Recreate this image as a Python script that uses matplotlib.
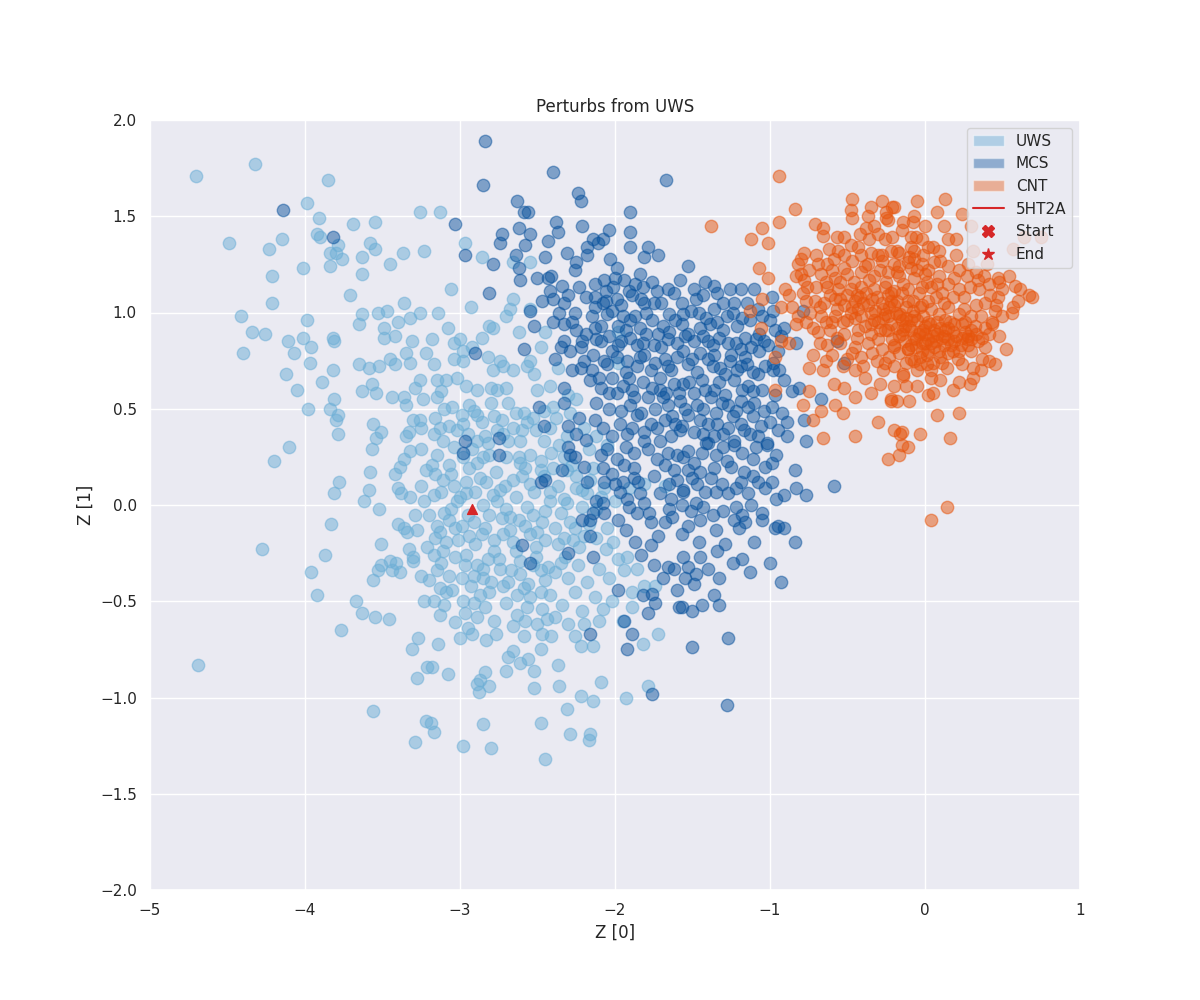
import numpy as np
import matplotlib
matplotlib.use("Agg")
import matplotlib.pyplot as plt
import seaborn as sns
from matplotlib.patches import Patch
from matplotlib.lines import Line2D

# latent coordinates (Z[0], Z[1])
uws_pts = [
    (-4.20, 0.23), (-4.28, -0.23), (-4.69, -0.83), (-3.83, -0.10), (-3.87, -0.26), (-3.96, -0.35),
    (-3.92, -0.47), (-3.67, -0.50), (-3.63, -0.56), (-3.55, -0.58), (-3.46, -0.59), (-3.77, -0.65),
    (-3.56, -1.07), (-3.27, -0.69), (-3.31, -0.75), (-3.28, -0.90), (-3.29, -1.23), (-3.22, -1.12),
    (-3.78, 0.12), (-3.81, 0.06), (-3.58, 0.17), (-3.59, 0.08), (-3.62, 0.02), (-3.52, -0.02),
    (-3.51, -0.20), (-3.56, -0.39), (-3.53, -0.34), (-3.51, -0.31), (-3.45, -0.29), (-3.41, -0.30),
    (-3.44, -0.34), (-3.39, -0.35), (-3.33, -0.23), (-3.30, -0.27), (-3.30, -0.29), (-3.40, -0.10),
    (-3.36, -0.12), (-3.34, -0.14), (-3.28, -0.13), (-3.29, -0.05), (-3.40, 0.09), (-3.38, 0.06),
    (-3.32, 0.04), (-3.25, 0.10), (-3.42, 0.16), (-3.39, 0.20), (-3.36, 0.24), (-3.23, -0.50),
    (-3.21, -0.84),
    (-4.70, 1.71), (-4.32, 1.77), (-3.85, 1.69), (-3.99, 1.57), (-3.91, 1.49), (-3.92, 1.41),
    (-3.90, 1.39), (-3.69, 1.46), (-3.55, 1.47), (-3.26, 1.52), (-4.49, 1.36), (-4.15, 1.38),
    (-4.23, 1.33), (-3.79, 1.35), (-3.84, 1.31), (-3.80, 1.31), (-3.76, 1.28), (-3.63, 1.29),
    (-3.58, 1.36), (-3.55, 1.33), (-3.37, 1.31), (-3.23, 1.32), (-3.45, 1.25), (-4.01, 1.23),
    (-3.84, 1.24), (-3.63, 1.20), (-4.21, 1.19), (-3.71, 1.09), (-4.21, 1.05), (-3.36, 1.05),
    (-4.41, 0.98), (-3.99, 0.96), (-3.63, 0.99), (-3.65, 0.94), (-3.53, 1.00), (-3.47, 1.01),
    (-3.32, 0.97), (-3.26, 1.00), (-3.40, 0.95), (-3.49, 0.92), (-3.49, 0.87), (-3.42, 0.88),
    (-4.34, 0.90), (-4.26, 0.89), (-4.11, 0.85), (-4.01, 0.87), (-3.96, 0.82), (-3.82, 0.87),
    (-3.81, 0.85), (-4.40, 0.79), (-4.07, 0.79), (-3.97, 0.74), (-3.31, 0.85), (-3.22, 0.79),
    (-3.65, 0.73), (-3.59, 0.71), (-3.52, 0.72), (-3.45, 0.76), (-3.42, 0.73), (-3.35, 0.79),
    (-3.32, 0.74), (-4.12, 0.68), (-3.82, 0.70), (-3.89, 0.64), (-4.05, 0.60), (-3.63, 0.59),
    (-3.57, 0.63), (-3.54, 0.58), (-3.44, 0.56), (-3.36, 0.56), (-3.35, 0.52), (-3.29, 0.61),
    (-3.26, 0.65), (-3.81, 0.55), (-3.98, 0.50), (-3.84, 0.50), (-3.79, 0.47), (-3.80, 0.44),
    (-3.79, 0.37), (-4.10, 0.30), (-3.56, 0.42), (-3.51, 0.38), (-3.54, 0.35), (-3.35, 0.36),
    (-3.33, 0.38), (-3.30, 0.44), (-3.26, 0.44), (-3.57, 0.29), (-3.32, 0.28), (-3.25, 0.29),
    (-3.13, 1.52), (-2.97, 1.36), (-2.86, 1.29), (-2.66, 1.26), (-2.55, 1.26), (-3.06, 1.12),
    (-2.93, 1.03), (-3.14, 1.00), (-2.66, 1.07), (-2.68, 1.02), (-2.70, 0.98), (-2.55, 1.02),
    (-3.08, 0.92), (-2.81, 0.93), (-2.79, 0.92), (-2.45, 0.90), (-3.18, 0.86), (-3.04, 0.84),
    (-3.00, 0.86), (-2.98, 0.80), (-2.92, 0.82), (-2.82, 0.77), (-2.74, 0.75), (-2.55, 0.75),
    (-3.04, 0.76), (-2.98, 0.75), (-2.79, 0.70), (-2.72, 0.72), (-2.66, 0.70), (-2.57, 0.72),
    (-2.37, 0.71), (-1.98, 0.90), (-1.98, 0.74), (-3.17, 0.73), (-3.15, 0.65), (-3.09, 0.65),
    (-3.02, 0.66), (-2.96, 0.62), (-2.89, 0.60), (-2.80, 0.61), (-2.76, 0.60), (-2.70, 0.61),
    (-2.50, 0.60), (-2.69, 0.53), (-2.40, 0.51), (-2.25, 0.55), (-3.12, 0.59), (-3.15, 0.56),
    (-3.05, 0.51), (-2.94, 0.52), (-2.91, 0.49), (-2.99, 0.47), (-2.89, 0.47), (-2.78, 0.46),
    (-2.59, 0.48), (-2.53, 0.45), (-2.57, 0.43), (-2.66, 0.40), (-2.76, 0.39), (-2.72, 0.37),
    (-2.84, 0.36), (-3.07, 0.41), (-3.13, 0.40), (-3.02, 0.39), (-2.95, 0.37), (-3.11, 0.33),
    (-3.17, 0.37), (-2.89, 0.33), (-2.82, 0.32), (-2.69, 0.33), (-2.61, 0.33), (-2.46, 0.33),
    (-2.36, 0.31), (-2.12, 0.36), (-2.42, 0.40),
    (-3.15, 0.26), (-3.07, 0.21), (-2.98, 0.25), (-2.89, 0.22), (-2.81, 0.26), (-2.70, 0.25),
    (-2.61, 0.22), (-2.55, 0.26), (-2.48, 0.23), (-2.40, 0.19), (-2.33, 0.25), (-2.25, 0.15),
    (-2.16, 0.13), (-2.07, 0.09), (-2.00, 0.02), (-1.91, 0.09), (-1.81, 0.11), (-1.68, 0.10),
    (-3.16, 0.16), (-3.11, 0.13), (-3.04, 0.10), (-2.96, 0.12), (-2.87, 0.14), (-2.83, 0.12),
    (-2.74, 0.08), (-2.66, 0.13), (-2.60, 0.15), (-2.55, 0.11), (-2.46, 0.15), (-2.42, 0.07),
    (-2.31, 0.18), (-2.25, 0.09), (-2.18, 0.06), (-3.17, 0.05), (-3.10, -0.04), (-3.02, 0.02),
    (-2.96, 0.06), (-2.85, 0.00), (-2.76, 0.02), (-2.70, -0.02), (-2.73, -0.07), (-2.68, -0.06),
    (-2.62, -0.08), (-2.57, -0.01), (-2.53, -0.05), (-2.45, -0.03), (-2.42, 0.02), (-2.31, 0.01),
    (-2.21, -0.01), (-2.26, -0.12), (-3.15, -0.11), (-3.07, -0.08), (-2.99, -0.11), (-2.91, -0.09),
    (-2.84, -0.12), (-3.16, -0.17), (-3.09, -0.19), (-3.01, -0.18), (-2.94, -0.16), (-2.86, -0.15),
    (-2.78, -0.18), (-2.72, -0.15), (-2.66, -0.19), (-2.55, -0.15), (-2.50, -0.14), (-2.45, -0.18),
    (-2.37, -0.20), (-2.33, -0.17), (-2.27, -0.18), (-2.20, -0.16), (-2.12, -0.17), (-2.06, -0.23),
    (-2.01, -0.19), (-3.17, -0.26), (-3.11, -0.24), (-3.03, -0.27), (-2.96, -0.26), (-2.89, -0.31),
    (-2.82, -0.28), (-2.74, -0.33), (-2.67, -0.34), (-2.61, -0.29), (-2.53, -0.31), (-2.48, -0.34),
    (-2.43, -0.32), (-2.35, -0.30), (-2.32, -0.27), (-3.15, -0.34), (-3.07, -0.37), (-2.99, -0.38),
    (-2.91, -0.37), (-2.85, -0.38), (-1.94, -0.34), (-1.92, -0.27), (-1.86, -0.33), (-3.13, -0.43),
    (-3.09, -0.45), (-3.17, -0.50), (-2.87, -0.47), (-2.81, -0.45), (-2.72, -0.42), (-2.63, -0.47),
    (-2.59, -0.43), (-2.55, -0.48), (-2.48, -0.45), (-2.42, -0.47), (-2.26, -0.45), (-2.13, -0.48),
    (-2.02, -0.50), (-1.89, -0.45), (-1.81, -0.42), (-2.91, -0.51), (-2.08, -0.54), (-3.13, -0.57),
    (-3.03, -0.61), (-2.97, -0.56), (-2.89, -0.58), (-2.78, -0.60), (-2.63, -0.57), (-2.58, -0.60),
    (-2.50, -0.62), (-2.44, -0.59), (-2.39, -0.58), (-3.14, -0.72), (-3.00, -0.69), (-2.92, -0.67),
    (-2.83, -0.70), (-2.77, -0.67), (-2.59, -0.68), (-2.47, -0.67), (-2.41, -0.68), (-2.26, -0.68),
    (-2.20, -0.62), (-2.14, -0.73), (-2.22, -0.73), (-1.95, -0.60), (-1.82, -0.72), (-1.72, -0.67),
    (-1.89, -0.53), (-3.18, -0.84), (-3.08, -0.88), (-2.89, -0.93), (-2.87, -0.91), (-2.84, -0.87),
    (-2.88, -0.97), (-2.81, -0.94), (-2.70, -0.86), (-2.66, -0.76), (-2.69, -0.79), (-2.61, -0.82),
    (-2.56, -0.80), (-2.52, -0.86), (-2.48, -0.75), (-2.37, -0.83), (-2.52, -0.95), (-2.36, -0.94),
    (-2.22, -0.99), (-2.14, -1.02), (-2.09, -0.92), (-1.93, -1.00), (-1.79, -0.94), (-2.31, -1.06),
    (-3.19, -1.13), (-3.17, -1.18), (-2.98, -1.25), (-2.85, -1.14), (-2.80, -1.26), (-2.48, -1.13),
    (-2.45, -1.32), (-2.29, -1.19), (-2.17, -1.22), (-2.16, -1.19), (-1.74, -0.42),
]

uws_core_pts = [
    (-3.18, 0.21), (-3.12, 0.07), (-3.06, 0.16), (-3.00, 0.04), (-2.94, 0.19), (-2.90, 0.07),
    (-2.85, 0.25), (-2.79, 0.05), (-2.77, 0.17), (-2.71, 0.10), (-2.64, 0.04), (-2.62, 0.25),
    (-2.58, 0.19), (-2.52, 0.07), (-2.48, 0.18), (-2.41, 0.27), (-2.37, 0.10), (-2.33, 0.03),
    (-2.28, 0.21), (-2.21, 0.08), (-2.14, 0.19), (-2.09, 0.04),
    (-3.20, -0.05), (-3.13, -0.14), (-3.06, -0.02), (-3.03, -0.12), (-2.95, -0.05), (-2.90, -0.20),
    (-2.81, -0.05), (-2.78, -0.24), (-2.68, -0.13), (-2.64, -0.24), (-2.58, -0.11), (-2.51, -0.22),
    (-2.47, -0.09), (-2.39, -0.12), (-2.35, -0.04), (-2.29, -0.09), (-2.23, -0.22), (-2.17, -0.10),
    (-2.12, -0.02), (-2.05, -0.12),
    (-3.20, -0.39), (-3.12, -0.30), (-3.05, -0.44), (-2.97, -0.31), (-2.93, -0.42), (-2.85, -0.33),
    (-2.80, -0.40), (-2.75, -0.28), (-2.69, -0.40), (-2.61, -0.36), (-2.56, -0.41), (-2.51, -0.27),
    (-2.45, -0.39), (-2.39, -0.35), (-2.30, -0.38), (-2.24, -0.31), (-2.18, -0.40), (-2.10, -0.33),
    (-2.04, -0.38), (-1.98, -0.28),
    (-3.16, 0.45), (-3.10, 0.50), (-3.04, 0.30), (-2.98, 0.42), (-2.92, 0.29), (-2.86, 0.43),
    (-2.80, 0.53), (-2.73, 0.44), (-2.64, 0.48), (-2.60, 0.39), (-2.51, 0.39), (-2.46, 0.49),
    (-2.38, 0.45), (-2.31, 0.36), (-2.29, 0.48), (-2.20, 0.40), (-2.17, 0.29), (-2.05, 0.31),
    (-3.25, -0.37), (-3.21, -0.22), (-3.23, 0.02), (-3.22, 0.18), (-3.25, 0.40), (-3.24, 0.55),
    (-3.10, -0.52), (-2.98, -0.50), (-2.84, -0.53), (-2.70, -0.51), (-2.57, -0.53), (-2.47, -0.54),
    (-2.34, -0.52), (-2.21, -0.55), (-2.10, -0.60), (-2.30, -0.62), (-2.66, -0.63), (-2.95, -0.64),
    (-2.48, 0.82), (-2.52, 0.68), (-2.42, 0.62), (-2.30, 0.57), (-2.86, 0.87), (-2.62, 0.90),
]

mcs_pts = [
    (-4.14, 1.53), (-3.82, 1.39),
    (-2.84, 1.89), (-2.40, 1.73), (-2.85, 1.66), (-1.67, 1.69), (-2.63, 1.58), (-2.24, 1.62),
    (-2.22, 1.58), (-2.59, 1.52), (-2.56, 1.52), (-1.90, 1.52), (-3.03, 1.46), (-2.62, 1.44),
    (-2.38, 1.47), (-2.37, 1.42), (-2.21, 1.45), (-2.04, 1.43), (-1.90, 1.42), (-2.73, 1.41),
    (-2.74, 1.36), (-2.58, 1.35), (-2.18, 1.34), (-2.14, 1.38), (-2.11, 1.36), (-2.08, 1.38),
    (-1.90, 1.34), (-1.79, 1.34), (-2.97, 1.30), (-2.79, 1.25), (-2.64, 1.30), (-2.45, 1.29),
    (-2.18, 1.30), (-2.03, 1.28), (-1.81, 1.29), (-1.72, 1.30), (-2.62, 1.23), (-2.61, 1.17),
    (-2.81, 1.10), (-2.25, 1.26), (-2.26, 1.22), (-1.99, 1.23), (-1.84, 1.20), (-2.43, 1.18),
    (-2.41, 1.19), (-2.34, 1.14), (-2.42, 1.11), (-2.40, 1.07), (-2.33, 1.05), (-2.26, 1.00),
    (-2.55, 1.01), (-2.07, 1.17), (-2.00, 1.18), (-1.94, 1.17), (-2.06, 1.11), (-1.91, 1.11),
    (-1.89, 1.09), (-1.82, 1.13), (-1.73, 1.11), (-1.66, 1.12), (-2.19, 1.08), (-2.13, 1.08),
    (-2.13, 1.03), (-2.08, 1.05), (-1.99, 1.07), (-1.81, 1.05), (-1.75, 1.05), (-2.02, 1.01),
    (-1.95, 0.98), (-1.90, 0.96), (-1.80, 1.00), (-1.65, 0.99), (-2.40, 0.95), (-2.33, 0.94),
    (-2.25, 0.91), (-2.19, 0.89), (-2.13, 0.92), (-1.98, 0.93), (-1.80, 0.89), (-1.72, 0.89),
    (-1.65, 0.90), (-2.33, 0.85), (-2.21, 0.85), (-2.09, 0.85), (-2.35, 0.82), (-2.29, 0.80),
    (-2.22, 0.82), (-2.02, 0.80), (-1.98, 0.83), (-1.86, 0.83), (-1.70, 0.82), (-2.90, 0.79),
    (-2.59, 0.81), (-2.07, 0.75), (-1.92, 0.75), (-1.84, 0.77), (-1.68, 0.76), (-2.20, 0.75),
    (-2.22, 0.71), (-2.15, 0.70), (-2.02, 0.66), (-1.91, 0.66), (-1.77, 0.70), (-1.71, 0.66),
    (-1.64, 0.70), (-2.16, 0.65), (-2.09, 0.61), (-1.99, 0.58), (-1.88, 0.56), (-1.79, 0.56),
    (-1.71, 0.60), (-1.67, 0.58), (-2.49, 0.51), (-2.33, 0.53), (-2.23, 0.45), (-2.13, 0.44),
    (-2.46, 0.41), (-2.30, 0.41), (-2.25, 0.37), (-2.19, 0.34), (-2.75, 0.35), (-2.97, 0.33),
    (-1.92, 0.37), (-1.86, 0.47), (-1.77, 0.42), (-1.68, 0.44), (-1.93, 0.30), (-1.81, 0.33),
    (-1.71, 0.33), (-1.61, 0.42),
    (-2.98, 0.27), (-2.75, 0.26), (-2.48, 0.12), (-2.45, 0.13), (-2.29, 0.26), (-2.26, 0.25),
    (-2.18, 0.12), (-2.09, 0.26), (-2.08, 0.19), (-2.07, 0.12), (-2.00, 0.11), (-1.95, 0.12),
    (-1.94, 0.21), (-1.88, 0.19), (-1.85, 0.12), (-1.84, 0.06), (-1.81, 0.01), (-1.92, 0.03),
    (-1.91, -0.01), (-1.78, -0.04), (-1.77, -0.09), (-1.68, -0.09), (-1.65, -0.02), (-1.64, 0.03),
    (-1.65, 0.11), (-1.68, 0.21), (-1.62, 0.18), (-1.60, 0.26), (-2.08, 0.01), (-2.14, -0.04),
    (-2.16, -0.08), (-2.21, -0.08), (-2.07, -0.04), (-2.16, -0.16), (-2.14, -0.27), (-2.30, -0.25),
    (-2.60, -0.21), (-2.55, -0.30), (-1.87, -0.19), (-1.77, -0.21), (-1.75, -0.31), (-1.66, -0.32),
    (-1.62, -0.33), (-1.98, -0.44), (-1.82, -0.47), (-1.76, -0.46), (-1.74, -0.51), (-1.79, -0.56),
    (-1.94, -0.60), (-1.89, -0.67), (-1.92, -0.75), (-2.16, -0.67), (-1.76, -0.98), (-1.60, -0.44),
    (-1.59, -0.53),
    (-1.53, 1.24), (-1.36, 1.14), (-1.34, 1.10), (-1.19, 1.12), (-1.43, 1.09), (-1.48, 1.07),
    (-1.23, 1.05), (-1.57, 1.05), (-1.51, 1.01), (-1.24, 1.00), (-1.18, 0.97), (-0.99, 1.08),
    (-1.05, 0.98), (-1.00, 0.96), (-1.34, 0.95), (-1.39, 0.94), (-1.45, 0.92), (-1.57, 0.94),
    (-1.53, 0.89), (-1.30, 0.91), (-1.07, 0.89), (-0.97, 0.91), (-0.91, 0.92), (-0.93, 0.88),
    (-0.83, 0.84), (-0.79, 1.01), (-1.40, 0.85), (-1.33, 0.87), (-1.49, 0.85), (-1.22, 0.84),
    (-1.19, 0.81), (-1.12, 0.82), (-1.04, 0.85), (-1.56, 0.80), (-1.45, 0.79), (-1.36, 0.78),
    (-1.26, 0.75), (-1.16, 0.77), (-1.07, 0.80), (-0.98, 0.74), (-1.53, 0.73), (-1.37, 0.72),
    (-1.29, 0.68), (-1.19, 0.72), (-1.11, 0.69), (-1.08, 0.68), (-0.98, 0.70), (-1.44, 0.65),
    (-1.56, 0.63), (-1.23, 0.65), (-1.14, 0.62), (-1.11, 0.59), (-1.36, 0.60), (-1.49, 0.58),
    (-0.91, 0.65), (-0.86, 0.59), (-0.81, 0.61), (-0.67, 0.55), (-1.58, 0.54), (-1.47, 0.52),
    (-1.38, 0.56), (-1.27, 0.52), (-1.19, 0.54), (-1.14, 0.51), (-1.04, 0.49), (-1.53, 0.47),
    (-1.45, 0.44), (-1.34, 0.42), (-1.24, 0.46), (-1.11, 0.46), (-1.00, 0.43), (-0.89, 0.43),
    (-0.78, 0.44), (-1.58, 0.39), (-1.43, 0.37), (-1.30, 0.37), (-1.17, 0.39), (-1.08, 0.36),
    (-0.89, 0.36), (-0.77, 0.33), (-1.02, 0.32), (-1.23, 0.33), (-1.40, 0.32), (-0.52, 0.74),
    (-0.57, 0.85),
    (-1.53, 0.28), (-1.41, 0.32), (-1.30, 0.30), (-1.23, 0.31), (-1.02, 0.31), (-0.96, 0.26),
    (-1.03, 0.20), (-0.84, 0.18), (-0.59, 0.10), (-0.83, 0.09), (-0.77, 0.05), (-1.53, 0.18),
    (-1.45, 0.17), (-1.36, 0.19), (-1.25, 0.20), (-1.17, 0.17), (-1.08, 0.12), (-1.03, 0.09),
    (-1.56, 0.07), (-1.47, 0.11), (-1.38, 0.14), (-1.35, 0.07), (-1.27, 0.06), (-1.22, 0.09),
    (-1.14, 0.06), (-0.96, 0.03), (-1.57, 0.00), (-1.48, 0.01), (-1.43, -0.01), (-1.30, -0.03),
    (-1.22, -0.01), (-1.18, -0.05), (-1.12, 0.00), (-1.05, -0.04), (-1.51, -0.03), (-1.53, -0.11),
    (-1.45, -0.08), (-1.35, -0.13), (-1.23, -0.08), (-1.16, -0.09), (-1.20, -0.12), (-0.97, -0.12),
    (-0.95, -0.11), (-0.91, -0.12), (-0.84, -0.19), (-1.46, -0.19), (-1.57, -0.15), (-1.34, -0.24),
    (-1.45, -0.27), (-1.56, -0.27), (-1.53, -0.32), (-1.48, -0.36), (-1.24, -0.30), (-1.18, -0.28),
    (-1.13, -0.35), (-1.00, -0.30), (-0.93, -0.40), (-1.33, -0.38), (-1.49, -0.41), (-1.36, -0.47),
    (-1.33, -0.52), (-1.44, -0.52), (-1.50, -0.55), (-1.57, -0.53), (-1.27, -0.69), (-1.50, -0.74),
    (-1.28, -1.04),
]

mcs_core_pts = [
    (-2.13, 1.15), (-2.06, 1.06), (-2.01, 1.13), (-1.96, 1.04), (-1.87, 1.15), (-1.83, 1.07),
    (-1.76, 1.16), (-1.70, 1.05), (-1.62, 1.10), (-1.58, 1.17), (-1.49, 1.12), (-1.42, 1.16),
    (-1.30, 1.05), (-1.26, 1.12), (-1.15, 1.05), (-1.10, 1.12),
    (-2.15, 0.98), (-2.09, 0.93), (-2.05, 0.99), (-1.93, 0.91), (-1.87, 0.98), (-1.84, 0.92),
    (-1.76, 0.96), (-1.69, 0.93), (-1.61, 0.96), (-1.56, 0.99), (-1.46, 1.00), (-1.41, 0.97),
    (-1.36, 1.02), (-1.28, 0.98), (-1.21, 0.93), (-1.13, 0.96), (-1.08, 1.02), (-0.98, 1.01),
    (-2.12, 0.86), (-2.04, 0.88), (-1.96, 0.85), (-1.90, 0.87), (-1.82, 0.84), (-1.75, 0.83),
    (-1.66, 0.86), (-1.60, 0.84), (-1.55, 0.88), (-1.43, 0.88), (-1.37, 0.83), (-1.27, 0.84),
    (-1.16, 0.87), (-1.09, 0.86), (-1.01, 0.83), (-0.95, 0.80),
    (-2.14, 0.78), (-2.05, 0.73), (-1.99, 0.77), (-1.93, 0.69), (-1.86, 0.72), (-1.81, 0.78),
    (-1.74, 0.74), (-1.66, 0.72), (-1.60, 0.77), (-1.50, 0.76), (-1.47, 0.69), (-1.40, 0.76),
    (-1.32, 0.71), (-1.25, 0.78), (-1.21, 0.70), (-1.15, 0.73), (-1.03, 0.72), (-0.94, 0.70),
    (-2.10, 0.66), (-2.04, 0.58), (-1.95, 0.62), (-1.89, 0.60), (-1.82, 0.64), (-1.76, 0.61),
    (-1.69, 0.56), (-1.62, 0.63), (-1.59, 0.58), (-1.52, 0.64), (-1.42, 0.60), (-1.33, 0.64),
    (-1.29, 0.57), (-1.18, 0.60), (-1.05, 0.60), (-0.97, 0.57),
    (-2.12, 0.53), (-2.04, 0.50), (-1.96, 0.49), (-1.90, 0.52), (-1.83, 0.48), (-1.74, 0.50),
    (-1.66, 0.52), (-1.63, 0.46), (-1.55, 0.50), (-1.43, 0.50), (-1.35, 0.48), (-1.31, 0.53),
    (-1.22, 0.49), (-1.10, 0.53), (-0.99, 0.51), (-0.92, 0.48),
    (-2.08, 0.40), (-2.02, 0.36), (-1.97, 0.42), (-1.89, 0.40), (-1.81, 0.38), (-1.73, 0.40),
    (-1.64, 0.36), (-1.57, 0.41), (-1.49, 0.38), (-1.40, 0.42), (-1.36, 0.36), (-1.27, 0.40),
    (-1.19, 0.42), (-1.13, 0.37), (-1.06, 0.41), (-0.95, 0.39),
    (-2.05, 0.29), (-1.99, 0.24), (-1.88, 0.27), (-1.79, 0.29), (-1.73, 0.24), (-1.66, 0.27),
    (-1.56, 0.25), (-1.49, 0.22), (-1.44, 0.27), (-1.35, 0.26), (-1.28, 0.23), (-1.18, 0.27),
    (-1.11, 0.24), (-1.09, 0.30), (-0.99, 0.22),
    (-2.02, 0.16), (-1.97, 0.07), (-1.88, 0.14), (-1.75, 0.15), (-1.71, 0.06), (-1.60, 0.13),
    (-1.56, 0.08), (-1.50, 0.14), (-1.42, 0.07), (-1.31, 0.11), (-1.19, 0.12), (-1.11, 0.15),
    (-0.99, 0.12), (-0.91, 0.05),
    (-2.50, 1.18), (-2.47, 1.06), (-2.52, 0.93), (-2.36, 1.00), (-2.30, 1.09), (-2.28, 0.95),
    (-2.23, 1.13), (-2.31, 1.31), (-2.43, 1.37), (-2.55, 1.41), (-2.28, 0.70), (-2.33, 0.61),
    (-2.39, 0.76), (-2.30, 0.30), (-2.34, 0.18), (-2.20, 0.20), (-2.12, 0.02), (-1.98, -0.08),
    (-1.86, -0.04), (-1.93, -0.13), (-1.72, -0.16), (-1.83, -0.26), (-1.69, -0.38), (-1.55, -0.38),
    (-1.40, -0.33), (-1.29, -0.20), (-1.10, -0.19), (-1.05, -0.08), (-1.37, -0.05), (-1.63, -0.06),
]

cnt_pts = [
    (-0.94, 1.71), (-0.84, 1.54), (-1.38, 1.45), (-0.94, 1.47), (-1.05, 1.44), (-1.12, 1.38),
    (-1.01, 1.36), (-1.07, 1.23), (-1.01, 1.18), (-0.90, 1.12), (-0.88, 1.09), (-1.05, 1.07),
    (-1.13, 1.01), (-0.93, 1.03), (-0.86, 1.03), (-1.06, 0.92), (-0.83, 0.94), (-0.77, 0.95),
    (-0.93, 0.85), (-0.88, 0.84), (-0.97, 0.77), (-0.72, 0.78), (-0.75, 0.71), (-0.66, 0.70),
    (-0.64, 0.75), (-0.45, 0.70), (-0.39, 0.66), (-0.59, 0.63), (-0.52, 0.61), (-0.35, 0.58),
    (-0.97, 0.60), (-0.75, 0.59), (-0.79, 0.52), (-0.67, 0.49), (-0.53, 0.48), (-0.72, 0.44),
    (-0.66, 0.35), (-0.45, 0.36), (-0.30, 0.43), (-0.22, 0.54), (-0.18, 0.54), (-0.10, 0.54),
    (-0.20, 0.62), (-0.12, 0.62), (-0.15, 0.38), (-0.03, 0.37), (-0.14, 0.67), (-0.27, 0.70),
    (-0.78, 1.31), (-0.80, 1.28), (-0.82, 1.25), (-0.80, 1.20), (-0.83, 1.19), (-0.78, 1.17),
    (-0.76, 1.13), (-0.77, 1.06), (-0.82, 0.98), (-0.71, 1.46), (-0.66, 1.44), (-0.66, 1.40),
    (-0.57, 1.39), (-0.52, 1.39), (-0.56, 1.32), (-0.52, 1.30), (-0.59, 1.28), (-0.69, 1.25),
    (-0.63, 1.25), (-0.47, 1.59), (-0.48, 1.53), (-0.47, 1.49), (-0.37, 1.50), (-0.35, 1.55),
    (-0.28, 1.58), (-0.25, 1.52), (-0.24, 1.48), (-0.21, 1.55), (-0.05, 1.58), (-0.07, 1.50),
    (-0.08, 1.47), (-0.38, 1.44), (-0.36, 1.38), (-0.26, 1.38), (-0.15, 1.43), (-0.09, 1.39),
    (-0.02, 1.38), (-0.43, 1.34), (-0.35, 1.31), (-0.41, 1.30), (-0.30, 1.30), (-0.22, 1.32),
    (-0.17, 1.31), (-0.07, 1.32), (0.02, 1.34), (-0.47, 1.27), (-0.37, 1.25), (-0.28, 1.27),
    (-0.20, 1.25), (-0.11, 1.26), (-0.02, 1.25), (-0.67, 1.20), (-0.58, 1.18), (-0.50, 1.20),
    (-0.41, 1.21), (-0.33, 1.19), (-0.24, 1.21), (-0.17, 1.19), (-0.07, 1.18), (-0.70, 1.13),
    (-0.63, 1.13), (-0.56, 1.12), (-0.48, 1.12), (-0.41, 1.13), (-0.33, 1.12), (-0.26, 1.13),
    (-0.20, 1.11), (-0.11, 1.12), (-0.02, 1.13), (-0.71, 1.06), (-0.65, 1.05), (-0.58, 1.07),
    (-0.52, 1.04), (-0.45, 1.06), (-0.37, 1.04), (-0.28, 1.05), (-0.20, 1.04), (-0.11, 1.06),
    (-0.02, 1.04), (-0.67, 0.98), (-0.58, 0.98), (-0.50, 0.96), (-0.41, 0.98), (-0.33, 0.96),
    (-0.24, 0.98), (-0.15, 0.96), (-0.07, 0.98), (0.02, 0.95), (-0.69, 0.90), (-0.61, 0.91),
    (-0.52, 0.89), (-0.43, 0.91), (-0.35, 0.89), (-0.26, 0.91), (-0.17, 0.88), (-0.09, 0.91),
    (0.00, 0.89), (-0.63, 0.83), (-0.55, 0.84), (-0.45, 0.82), (-0.37, 0.84), (-0.28, 0.81),
    (-0.20, 0.83), (-0.11, 0.81), (-0.02, 0.84), (-0.50, 0.76), (-0.41, 0.77), (-0.31, 0.75),
    (-0.23, 0.77), (-0.07, 0.75), (0.01, 0.73),
    (0.13, 1.59), (0.24, 1.51), (-0.20, 1.55), (-0.25, 1.49), (-0.21, 1.39), (-0.06, 1.39),
    (0.15, 1.38), (0.20, 1.38), (-0.18, 1.32), (-0.09, 1.34), (0.05, 1.34), (0.09, 1.32),
    (0.20, 1.30), (-0.01, 1.30), (-0.07, 1.28), (-0.28, 1.30), (0.06, 1.26), (0.15, 1.24),
    (0.22, 1.22), (-0.17, 1.24), (-0.09, 1.23), (0.00, 1.20), (0.09, 1.19), (0.27, 1.19),
    (0.33, 1.21), (0.38, 1.19), (0.47, 1.18), (0.54, 1.19), (0.34, 1.17), (0.41, 1.15),
    (0.48, 1.16), (0.50, 1.12), (0.47, 1.08), (0.61, 1.12), (0.67, 1.09), (0.69, 1.08),
    (0.60, 1.06), (0.57, 1.03), (0.56, 1.00), (0.45, 1.01), (0.42, 1.09), (0.39, 1.05),
    (0.43, 0.94), (0.41, 0.89), (0.39, 0.92), (0.30, 0.98), (0.25, 1.08), (0.29, 1.13),
    (0.22, 1.12), (0.15, 1.15), (0.11, 1.10), (0.04, 1.13), (0.02, 1.06), (0.15, 1.03),
    (0.22, 0.99), (0.09, 0.99), (-0.03, 1.03), (-0.15, 1.10), (-0.22, 1.06), (-0.26, 0.99),
    (-0.17, 0.98), (-0.09, 0.96), (0.00, 0.93), (0.08, 0.95), (0.15, 0.92), (0.24, 0.94),
    (0.30, 0.91), (0.37, 0.87), (0.43, 0.95), (-0.24, 0.91), (-0.15, 0.89), (-0.07, 0.87),
    (0.02, 0.86), (0.11, 0.87), (0.19, 0.85), (0.28, 0.88), (-0.20, 0.82), (-0.11, 0.81),
    (-0.02, 0.80), (0.06, 0.82), (0.15, 0.79), (0.22, 0.80), (0.30, 0.80), (0.37, 0.76),
    (0.41, 0.75), (0.45, 0.73), (0.52, 0.81), (0.31, 0.71), (-0.09, 0.76), (-0.03, 0.73),
    (0.04, 0.70), (0.11, 0.74), (-0.20, 0.72), (-0.14, 0.68), (0.04, 0.66), (0.10, 0.65),
    (0.22, 0.64), (0.29, 0.63), (0.02, 0.57), (0.05, 0.58), (-0.22, 0.55), (0.08, 0.47),
    (0.22, 0.48), (-0.20, 0.39), (-0.16, 0.37), (-0.15, 0.31), (-0.11, 0.30), (-0.24, 0.24),
    (-0.17, 0.26), (0.16, 0.35), (0.14, -0.01), (0.04, -0.08),
    (0.30, 1.45), (0.57, 1.33), (0.64, 1.39), (0.75, 1.39),
]

cnt_core_pts = [
    (-0.60, 1.22), (-0.55, 1.16), (-0.52, 1.23), (-0.46, 1.16), (-0.44, 1.09), (-0.39, 1.24),
    (-0.36, 1.17), (-0.31, 1.08), (-0.29, 1.22), (-0.25, 1.16), (-0.22, 1.10), (-0.18, 1.21),
    (-0.14, 1.15), (-0.12, 1.03), (-0.05, 1.22), (-0.04, 1.10), (0.01, 1.16), (0.04, 1.02),
    (-0.61, 1.09), (-0.57, 1.02), (-0.53, 0.95), (-0.48, 1.00), (-0.43, 1.02), (-0.39, 0.93),
    (-0.35, 1.00), (-0.30, 0.95), (-0.27, 1.02), (-0.22, 0.94), (-0.19, 1.00), (-0.13, 0.93),
    (-0.08, 1.01), (-0.64, 1.16), (-0.68, 1.03), (-0.60, 0.95),
    (-0.21, 0.86), (-0.17, 0.79), (-0.13, 0.85), (-0.10, 0.93), (-0.06, 0.82), (-0.03, 0.90),
    (0.01, 0.78), (0.04, 0.84), (0.06, 0.91), (0.09, 0.80), (0.12, 0.88), (0.13, 0.96),
    (0.17, 0.83), (0.18, 0.90), (0.21, 0.76), (0.24, 0.87), (0.26, 0.95), (0.28, 0.83),
    (0.32, 0.93), (0.34, 0.85), (0.36, 0.98), (0.39, 0.82), (0.12, 1.05), (0.18, 1.08),
    (0.25, 1.02), (0.33, 1.04), (0.07, 1.08), (-0.01, 0.98), (0.05, 0.74), (0.14, 0.71),
    (0.24, 0.73), (-0.05, 0.70), (-0.12, 0.74), (0.08, 1.15), (0.19, 1.18), (0.28, 1.25),
    (0.35, 1.12), (0.02, 1.22), (-0.10, 1.29), (0.10, 1.27),
    (-0.72, 0.92), (-0.68, 0.84), (-0.64, 0.95), (-0.60, 0.78), (-0.57, 0.87), (-0.53, 0.72),
    (-0.47, 0.79), (-0.44, 0.87), (-0.40, 0.72), (-0.34, 0.79), (-0.30, 0.86), (-0.26, 0.74),
    (-0.79, 1.10), (-0.74, 1.00), (-0.75, 1.22), (-0.70, 1.30), (-0.62, 1.33), (-0.48, 1.35),
    (-0.42, 1.41), (-0.33, 1.45), (-0.14, 1.47), (-0.30, 1.41),
    (0.31, 0.66), (0.36, 0.70), (0.18, 0.60), (-0.05, 0.62), (-0.29, 0.63), (-0.45, 0.56),
    (-0.58, 0.52), (0.48, 0.88), (0.50, 0.98), (0.46, 1.04), (0.58, 1.14), (0.40, 1.25),
    (0.31, 1.32), (0.12, 1.45), (0.00, 1.45), (0.08, 1.52),
    (-0.45, 0.97), (-0.40, 1.05), (-0.34, 1.07), (-0.32, 1.01), (-0.27, 0.97), (-0.23, 1.03),
    (-0.18, 1.06), (-0.16, 0.99), (-0.12, 0.97), (-0.08, 1.06), (-0.05, 0.96), (-0.04, 0.89),
    (0.00, 0.84), (0.03, 0.94), (0.05, 0.88), (0.07, 0.85), (0.10, 0.92), (0.12, 0.83),
    (0.15, 0.86), (0.16, 0.95), (0.19, 0.94), (0.20, 0.88), (0.23, 0.83), (0.26, 0.90),
    (0.27, 0.86), (-0.01, 0.91), (-0.06, 0.86), (-0.09, 0.83), (-0.14, 0.91), (-0.18, 0.92),
    (-0.42, 1.08), (-0.38, 1.10), (-0.47, 1.03), (-0.50, 1.09), (0.08, 0.89), (0.02, 0.80),
    (0.10, 0.77), (0.18, 0.80), (-0.35, 0.94), (-0.29, 0.91), (-0.55, 1.07), (-0.24, 1.09),
    (0.30, 0.86), (0.33, 0.89), (0.13, 0.91), (-0.03, 0.77),
]

# perturbation marker
start_pt = (-2.92, -0.02)

uws = np.array(uws_pts + uws_core_pts)
mcs = np.array(mcs_pts + mcs_core_pts)
cnt = np.array(cnt_pts + cnt_core_pts)

c_uws = "#6baed6"
c_mcs = "#08519c"
c_cnt = "#e6550d"
c_red = "#d62728"

sns.set_theme(style="darkgrid")

fig, ax = plt.subplots(figsize=(12, 10), dpi=100)
ax.scatter(uws[:, 0], uws[:, 1], s=80, color=c_uws, alpha=0.5)
ax.scatter(mcs[:, 0], mcs[:, 1], s=80, color=c_mcs, alpha=0.48)
ax.scatter(cnt[:, 0], cnt[:, 1], s=80, color=c_cnt, alpha=0.5)
ax.scatter([start_pt[0]], [start_pt[1]], marker="^", s=50, color=c_red, zorder=5)

ax.set_xlim(-5, 1)
ax.set_ylim(-2, 2)
ax.set_xlabel("Z [0]")
ax.set_ylabel("Z [1]")
ax.set_title("Perturbs from UWS")

handles = [
    Patch(facecolor=c_uws, alpha=0.45, label="UWS"),
    Patch(facecolor=c_mcs, alpha=0.4, label="MCS"),
    Patch(facecolor=c_cnt, alpha=0.4, label="CNT"),
    Line2D([], [], color=c_red, lw=1.5, label="5HT2A"),
    Line2D([], [], color=c_red, marker="X", ls="", markersize=9, label="Start"),
    Line2D([], [], color=c_red, marker="*", ls="", markersize=9, label="End"),
]
ax.legend(handles=handles, loc="upper right")

fig.savefig("out.png", dpi=100)
